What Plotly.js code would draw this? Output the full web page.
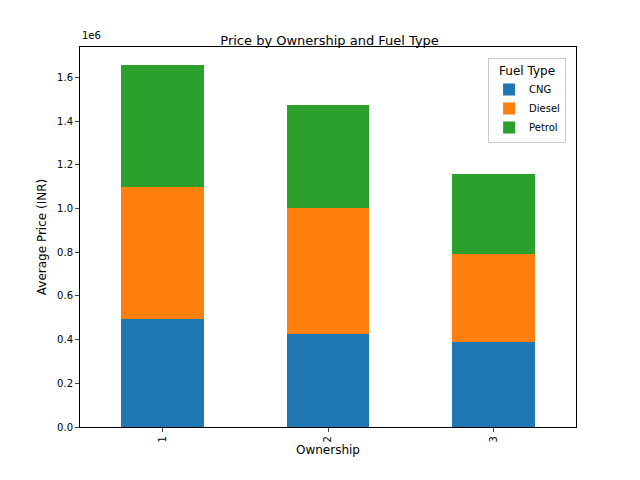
<!DOCTYPE html>
<html>
<head>
<script src="https://cdn.plot.ly/plotly-3.0.1.min.js"></script>
<style>body{margin:0}</style>
</head>
<body>
<div id="chart" style="width:640px;height:480px"></div>
<script>
const ownership = ["1", "2", "3"];
const cng = [494000, 424000, 390000];
const diesel = [607000, 578000, 400000];
const petrol = [555000, 471000, 368000];
const yTicks = [0, 0.2e6, 0.4e6, 0.6e6, 0.8e6, 1.0e6, 1.2e6, 1.4e6, 1.6e6];

const series = [
  { name: "CNG", y: cng, color: "#1f77b4" },
  { name: "Diesel", y: diesel, color: "#ff7f0e" },
  { name: "Petrol", y: petrol, color: "#2ca02c" },
];

const traces = series.map((s) => ({
  type: "bar",
  name: s.name,
  x: ownership,
  y: s.y,
  width: 0.5,
  marker: { color: s.color },
}));

const font = { family: "DejaVu Sans", size: 10, color: "#000" };

const layout = {
  barmode: "stack",
  width: 640,
  height: 480,
  margin: { l: 80, r: 64, t: 47, b: 53 },
  font,
  title: { text: "Price by Ownership and Fuel Type", font: { family: "DejaVu Sans", size: 13 }, x: 0.515, y: 0.925 },
  xaxis: {
    type: "category",
    title: { text: "Ownership", standoff: 4 },
    range: [-0.5, 2.5],
    tickangle: -90,
    ticks: "outside",
    ticklen: 4,
    showline: true,
    mirror: true,
    linecolor: "#000",
    linewidth: 1,
  },
  yaxis: {
    title: { text: "Average Price (INR)" },
    range: [0, 1.74e6],
    tickvals: yTicks,
    ticktext: yTicks.map((v) => (v / 1e6).toFixed(1)),
    ticks: "outside",
    ticklen: 4,
    showgrid: false,
    zeroline: false,
    showline: true,
    mirror: true,
    linecolor: "#000",
    linewidth: 1,
  },
  legend: {
    title: { text: "Fuel Type", side: "top center" },
    x: 0.98, y: 0.97, xanchor: "right", yanchor: "top",
    bordercolor: "#ccc", borderwidth: 1,
    traceorder: "normal",
  },
  annotations: [{
    text: "1e6", xref: "paper", yref: "paper", x: 0, y: 1.01,
    xanchor: "left", yanchor: "bottom", showarrow: false,
  }],
  plot_bgcolor: "#fff",
  paper_bgcolor: "#fff",
};

Plotly.newPlot("chart", traces, layout, { displayModeBar: false });
</script>
</body>
</html>
